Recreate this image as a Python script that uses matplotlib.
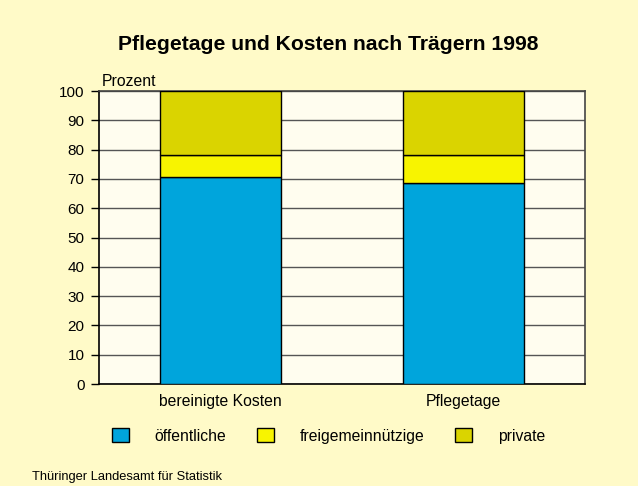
import matplotlib.pyplot as plt
import numpy as np


CATEGORIES = ['bereinigte Kosten', 'Pflegetage']
SERIES = ['öffentliche', 'freigemeinnützige', 'private']
OEFFENTLICHE = [70.7, 68.5]
FREIGEMEIN = [7.3, 9.5]
PRIVATE = [22.0, 22.0]
COLORS = ['#00A5DC', '#F8F400', '#DAD400']
YTICKS = [0, 10, 20, 30, 40, 50, 60, 70, 80, 90, 100]

plt.rcParams['font.family'] = ['Liberation Sans', 'DejaVu Sans']

fig = plt.figure(figsize=(6.38, 4.86), dpi=100, facecolor='#FFFAC8')
ax = fig.add_axes([99 / 638, 1 - 384 / 486, 486 / 638, 293 / 486])
ax.set_facecolor('#FFFDEF')

x = np.arange(len(CATEGORIES))
bottom = np.zeros(len(CATEGORIES))
for name, vals, col in zip(SERIES, [OEFFENTLICHE, FREIGEMEIN, PRIVATE], COLORS):
    ax.bar(x, vals, 0.5, bottom=bottom, color=col, edgecolor='black',
           linewidth=1, label=name, zorder=3)
    bottom += np.array(vals)

ax.set_xlim(-0.5, 1.5)
ax.set_ylim(0, 100)
ax.set_yticks(YTICKS)
ax.set_xticks(x)
ax.set_xticklabels(CATEGORIES, fontsize=11.3)
ax.tick_params(axis='x', length=0, pad=7)
ax.tick_params(axis='y', length=6, width=1, labelsize=11, pad=4.5)
ax.grid(axis='y', color='#555555', linewidth=1, zorder=1)

for side in ['left', 'bottom']:
    ax.spines[side].set_color('black')
    ax.spines[side].set_linewidth(1.2)
for side in ['top', 'right']:
    ax.spines[side].set_color('#444444')
    ax.spines[side].set_linewidth(1.2)

fig.text(102 / 638, 1 - 81 / 486, 'Prozent', fontsize=11.3,
         ha='left', va='center')

fig.text(0.514, 1 - 45 / 486, 'Pflegetage und Kosten nach Trägern 1998',
         fontsize=15.2, fontweight='bold', ha='center', va='center')

fig.legend(loc='center', bbox_to_anchor=(0.515, 1 - 436 / 486), ncol=3,
           frameon=False, fontsize=11.3, handlelength=1.08, handleheight=1.0,
           handletextpad=1.66, columnspacing=1.95)

fig.text(32 / 638, 1 - 477 / 486, 'Thüringer Landesamt für Statistik',
         fontsize=9.3, ha='left', va='center')

fig.savefig('out.png', dpi=100, facecolor=fig.get_facecolor())
